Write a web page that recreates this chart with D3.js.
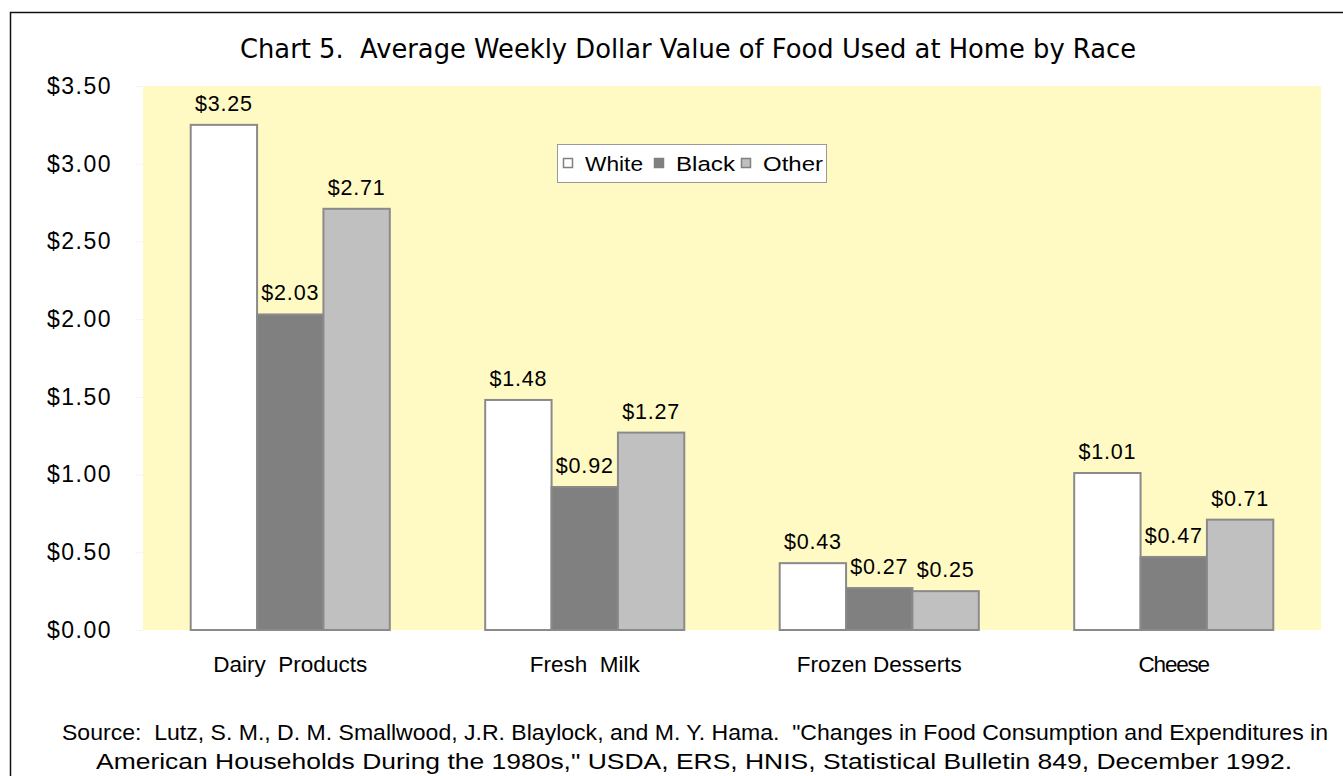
<!DOCTYPE html>
<html>
<head>
<meta charset="utf-8">
<script src="https://cdn.jsdelivr.net/npm/d3@7"></script>
<style>
  body { margin: 0; background: #fff; }
  text { fill: #000; }
</style>
</head>
<body>
<div id="chart"></div>
<script>
var categories = ['Dairy  Products', 'Fresh  Milk', 'Frozen Desserts', 'Cheese'];
var series = ['White', 'Black', 'Other'];
var white = [3.25, 1.48, 0.43, 1.01];
var black = [2.03, 0.92, 0.27, 0.47];
var other = [2.71, 1.27, 0.25, 0.71];
var yTicks = [0, 0.5, 1, 1.5, 2, 2.5, 3, 3.5];

var colors = {White: '#ffffff', Black: '#808080', Other: '#c0c0c0'};

var W = 1343, H = 776;
var plot = {left: 143, right: 1321, top: 86, bottom: 630};

var svg = d3.select('#chart')
    .append('svg')
      .attr('width', W)
      .attr('height', H)

// outer frame
svg.append('rect')
    .attr('x', 10.5).attr('y', 12.5)
    .attr('width', W + 20).attr('height', H + 20)
    .attr('fill', 'none')
    .attr('stroke', '#111')
    .attr('stroke-width', 1.5)

svg.append('text')
    .attr('x', 688).attr('y', 58)
    .attr('text-anchor', 'middle')
    .style('font-family', '"DejaVu Sans", sans-serif')
    .style('font-size', '26px')
    .style('white-space', 'pre')
    .attr('textLength', 896)
    .attr('lengthAdjust', 'spacingAndGlyphs')
    .text('Chart 5.  Average Weekly Dollar Value of Food Used at Home by Race')

var x = d3.scaleBand().domain(categories).range([plot.left, plot.right]).paddingInner(0.324).paddingOuter(0.162)
var xs = d3.scaleBand().domain(series).range([0, x.bandwidth()])
var y = d3.scaleLinear().domain([0, 3.5]).range([plot.bottom, plot.top])

svg.append('rect')
    .attr('x', plot.left).attr('y', plot.top)
    .attr('width', plot.right - plot.left).attr('height', plot.bottom - plot.top)
    .attr('fill', '#fff9c3')

// y axis
var yAxis = svg.append('g')
    .attr('transform', 'translate(' + plot.left + ',0)')
    .call(d3.axisLeft(y).tickValues(yTicks).tickSize(8).tickPadding(23).tickFormat(d => '$' + d.toFixed(2)))
yAxis.select('.domain').remove()
yAxis.selectAll('line').attr('stroke', '#f4f4f4')
yAxis.selectAll('text')
    .style('font-family', '"Liberation Sans", Arial, sans-serif')
    .style('font-size', '23px')
    .style('letter-spacing', '1.5px')

// x labels
svg.append('g').selectAll('text')
    .data(categories)
    .enter()
    .append('text')
    .attr('x', d => x(d) + x.bandwidth() / 2)
    .attr('y', 672)
    .attr('text-anchor', 'middle')
    .style('font-family', '"Liberation Sans", Arial, sans-serif')
    .style('font-size', '22.5px')
    .style('white-space', 'pre')
    .style('letter-spacing', (d, i) => i == 3 ? '-1.2px' : '0px')
    .text(d => d)

var rows = [];
categories.forEach(function(c, i) {
    rows.push({cat: c, s: 'White', v: white[i]})
    rows.push({cat: c, s: 'Black', v: black[i]})
    rows.push({cat: c, s: 'Other', v: other[i]})
})

svg.append('g').selectAll('rect')
    .data(rows)
    .enter()
    .append('rect')
    .attr('x', d => x(d.cat) + xs(d.s))
    .attr('y', d => y(d.v))
    .attr('width', xs.bandwidth())
    .attr('height', d => y(0) - y(d.v))
    .attr('fill', d => colors[d.s])
    .attr('stroke', '#8a8a8a')
    .attr('stroke-width', 2)

svg.append('g').selectAll('text')
    .data(rows)
    .enter()
    .append('text')
    .attr('x', d => x(d.cat) + xs(d.s) + xs.bandwidth() / 2)
    .attr('y', d => y(d.v) - 14)
    .attr('text-anchor', 'middle')
    .style('font-family', '"Liberation Sans", Arial, sans-serif')
    .style('font-size', '21.5px')
    .style('letter-spacing', '0.8px')
    .text(d => '$' + d.v.toFixed(2))

// legend
var lg = svg.append('g').attr('transform', 'translate(557,144)')
lg.append('rect')
    .attr('x', 0.5).attr('y', 0.5)
    .attr('width', 269).attr('height', 38)
    .attr('fill', '#fff')
    .attr('stroke', '#999')
var legX = [6, 97, 184];
lg.selectAll('.sw')
    .data(series)
    .enter()
    .append('rect')
    .attr('x', (d, i) => legX[i] + 0.5)
    .attr('y', 14.5)
    .attr('width', 9).attr('height', 9)
    .attr('fill', d => colors[d])
    .attr('stroke', '#808080')
    .attr('stroke-width', 1.5)
var legW = [58, 59, 60];
lg.selectAll('.lt')
    .data(series)
    .enter()
    .append('text')
    .attr('x', (d, i) => legX[i] + 22)
    .attr('y', 27)
    .attr('textLength', (d, i) => legW[i])
    .attr('lengthAdjust', 'spacingAndGlyphs')
    .style('font-family', '"Liberation Sans", Arial, sans-serif')
    .style('font-size', '20.5px')
    .text(d => d)

// source
var source = [
  'Source:  Lutz, S. M., D. M. Smallwood, J.R. Blaylock, and M. Y. Hama.  "Changes in Food Consumption and Expenditures in',
  'American Households During the 1980s," USDA, ERS, HNIS, Statistical Bulletin 849, December 1992.'
];
var srcX = [62, 96], srcW = [1266, 1196], srcY = [740, 769];
svg.append('g').selectAll('text')
    .data(source)
    .enter()
    .append('text')
    .attr('x', (d, i) => srcX[i])
    .attr('y', (d, i) => srcY[i])
    .attr('textLength', (d, i) => srcW[i])
    .attr('lengthAdjust', 'spacingAndGlyphs')
    .style('font-family', '"Liberation Sans", Arial, sans-serif')
    .style('font-size', '22.5px')
    .style('white-space', 'pre')
    .text(d => d)
</script>
</body>
</html>
